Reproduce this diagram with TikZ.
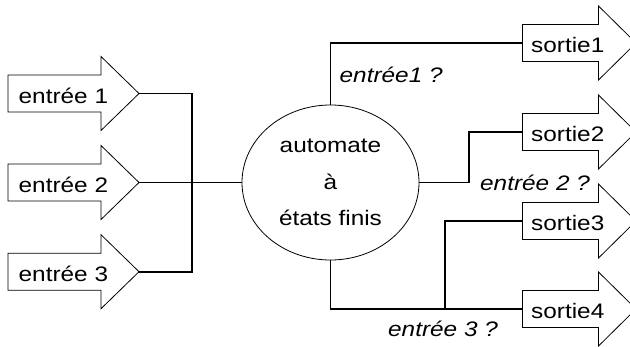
\documentclass[tikz,border=0pt]{standalone}
\usepackage{fontspec}
\setmainfont[FakeStretch=1.16]{Liberation Sans}
\usetikzlibrary{shapes.geometric}

\begin{document}
\begin{tikzpicture}[x=1pt,y=-1pt,
  outline/.style={draw=black, line width=0.8pt, fill=white, line join=miter},
  wire/.style={draw=black, line width=1.6pt},
  lbl/.style={inner sep=0pt, anchor=base west, font=\fontsize{21}{25}\selectfont},
  cond/.style={lbl, font=\fontsize{21}{25}\selectfont\itshape},
  fsmstyle/.style={ellipse, draw, line width=0.8pt, minimum width=177pt,
    minimum height=155pt, inner sep=0pt, align=center,
    font=\fontsize{21}{36.7}\selectfont}]

\useasboundingbox (0,0) rectangle (630,346);

% central automaton
\node[fsmstyle] (fsm) at (330.5,182.5) {automate\\à\\états finis};

% input arrows
\foreach \c/\i in {93.5/1, 182.5/2, 271.7/3} {
  \draw[outline] (8,{\c-18.5}) -- (101,{\c-18.5}) -- (101,{\c-37}) -- (139,\c)
    -- (101,{\c+37}) -- (101,{\c+18.5}) -- (8,{\c+18.5}) -- cycle;
  \coordinate (in\i) at (139,\c);
  \node[lbl] (e\i) at (18.5,{\c+9.8}) {entrée \i};
}

% output arrows
\foreach \c/\i in {43/1, 132/2, 221/3, 309/4} {
  \draw[outline] (522.5,{\c-18.5}) -- (598.5,{\c-18.5}) -- (598.5,{\c-37}) -- (636,\c)
    -- (598.5,{\c+37}) -- (598.5,{\c+18.5}) -- (522.5,{\c+18.5}) -- cycle;
  \coordinate (out\i) at (522.5,\c);
  \node[lbl] (s\i) at (531,{\c+9.5}) {sortie\i};
}

% inputs gathered on a bus
\coordinate (bus) at (192,182.5);
\draw[wire] (in1) -| (bus) |- (in3);
\draw[wire] (in2) -- (fsm.west);

% outputs
\draw[wire] (fsm.north) |- (out1);
\coordinate (k2) at (469,132);
\draw[wire] (fsm.east) -| (k2) -- (out2);
\draw[wire] (fsm.south) |- (out4);
\coordinate (k3) at (445,309);
\draw[wire] (k3) |- (out3);

% conditions
\node[cond] (c1) at (339.5,82.7) {entrée1 ?};
\node[cond] (c2) at (480,190.7) {entrée 2 ?};
\node[cond] (c3) at (388,336.7) {entrée 3 ?};
\end{tikzpicture}
\end{document}
